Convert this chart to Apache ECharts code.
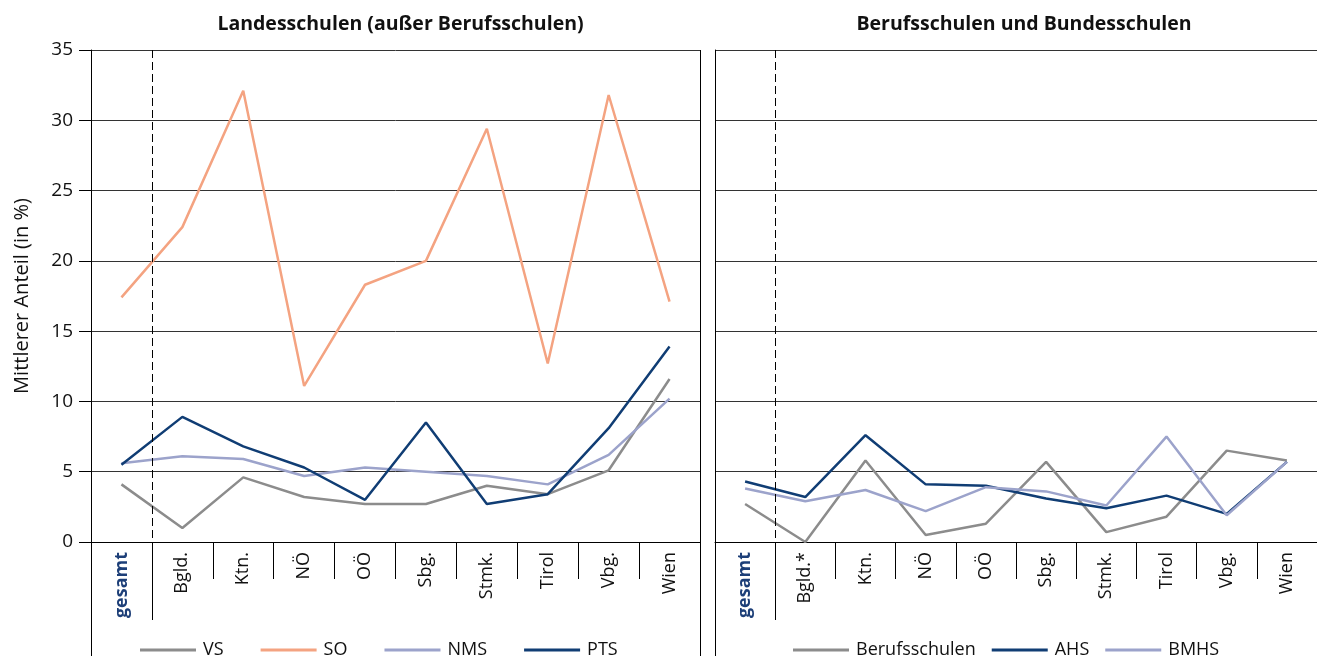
<!DOCTYPE html>
<html>
<head>
<meta charset="utf-8">
<script src="https://cdn.jsdelivr.net/npm/echarts@6/dist/echarts.min.js"></script>
<style>
  html, body { margin: 0; padding: 0; background: #fff; }
  #chart { width: 1317px; height: 656px; }
</style>
</head>
<body>
<div id="chart"></div>
<script>
// Kategorien
const catsLeft = ["gesamt", "Bgld.", "Ktn.", "NÖ", "OÖ", "Sbg.", "Stmk.", "Tirol", "Vbg.", "Wien"];
const catsRight = ["gesamt", "Bgld.*", "Ktn.", "NÖ", "OÖ", "Sbg.", "Stmk.", "Tirol", "Vbg.", "Wien"];

// Landesschulen
const vs = [4.1, 1.0, 4.6, 3.2, 2.7, 2.7, 4.0, 3.4, 5.1, 11.6];
const so = [17.4, 22.4, 32.1, 11.1, 18.3, 20.0, 29.4, 12.7, 31.8, 17.1];
const nms = [5.6, 6.1, 5.9, 4.7, 5.3, 5.0, 4.7, 4.1, 6.2, 10.2];
const pts = [5.5, 8.9, 6.8, 5.3, 3.0, 8.5, 2.7, 3.4, 8.1, 13.9];

// Berufsschulen und Bundesschulen
const berufsschulen = [2.7, 0.0, 5.8, 0.5, 1.3, 5.7, 0.7, 1.8, 6.5, 5.8];
const ahs = [4.3, 3.2, 7.6, 4.1, 4.0, 3.1, 2.4, 3.3, 2.0, 5.7];
const bmhs = [3.8, 2.9, 3.7, 2.2, 3.9, 3.6, 2.6, 7.5, 1.9, 5.7];

const yMin = 0, yMax = 35, yStep = 5;

const FONT = "Open Sans";
const GREY = "#8c8c8c";
const SALMON = "#f4a381";
const LAV = "#9ca3cb";
const NAVY = "#103d74";
const LINE = "#333";

const G0 = { left: 91, top: 50, width: 609, height: 492 };
const G1 = { left: 715, top: 50, width: 610, height: 492 };

function xAxisCfg(gridIndex, data) {
  return {
    type: "category",
    gridIndex: gridIndex,
    data: data,
    boundaryGap: true,
    axisLine: { lineStyle: { color: "#000", width: 1 } },
    axisTick: { show: true, interval: 0, length: 37, lineStyle: { color: "#000" } },
    axisLabel: {
      interval: 0,
      rotate: 90,
      margin: 10,
      formatter: function (v) {
        return v === "gesamt" ? "{g|" + v + "}" : "{n|" + v + "}";
      },
      rich: {
        n: { fontFamily: FONT, fontSize: 18, color: "#111" },
        g: { fontFamily: FONT, fontSize: 18, fontWeight: "bold", color: "#1d3f78" }
      }
    },
    splitLine: { show: false }
  };
}

function yAxisCfg(gridIndex, withLabels) {
  return {
    type: "value",
    gridIndex: gridIndex,
    min: yMin,
    max: yMax,
    interval: yStep,
    name: withLabels ? "Mittlerer Anteil (in %)" : "",
    nameLocation: "middle",
    nameGap: 59,
    nameTextStyle: { fontFamily: FONT, fontSize: 20, color: "#111" },
    axisLine: { show: true, lineStyle: { color: "#000" } },
    axisTick: { show: withLabels, length: 12, lineStyle: { color: "#000" } },
    axisLabel: {
      show: withLabels,
      margin: 18,
      fontFamily: FONT,
      fontSize: 19,
      color: "#111"
    },
    splitLine: { show: true, lineStyle: { color: LINE, width: 1 } }
  };
}

function line(name, data, color, xi) {
  return {
    name: name,
    type: "line",
    xAxisIndex: xi,
    yAxisIndex: xi,
    data: data,
    symbol: "none",
    showSymbol: false,
    lineStyle: { color: color, width: 2.5 },
    itemStyle: { color: color },
    emphasis: { disabled: true },
    z: 3
  };
}

const chart = echarts.init(document.getElementById("chart"));

const legendText = { fontFamily: FONT, fontSize: 18, color: "#111", padding: [0, 0, 0, 2] };
const titleText = { fontFamily: FONT, fontSize: 19.5, fontWeight: "bold", color: "#111" };

chart.setOption({
  animation: false,
  backgroundColor: "#fff",
  title: [
    {
      text: "Landesschulen (außer Berufsschulen)",
      left: G0.left + G0.width / 2,
      textAlign: "center",
      top: 9,
      textStyle: titleText
    },
    {
      text: "Berufsschulen und Bundesschulen",
      left: 1019,
      textAlign: "center",
      top: 9,
      textStyle: titleText
    }
  ],
  grid: [G0, G1],
  legend: [
    {
      data: ["VS", "SO", "NMS", "PTS"],
      left: 135,
      top: 636,
      icon: "rect",
      itemWidth: 56,
      itemHeight: 3,
      itemGap: 37,
      textStyle: legendText
    },
    {
      data: ["Berufsschulen", "AHS", "BMHS"],
      left: 788,
      top: 636,
      icon: "rect",
      itemWidth: 56,
      itemHeight: 3,
      itemGap: 16,
      textStyle: legendText
    }
  ],
  xAxis: [xAxisCfg(0, catsLeft), xAxisCfg(1, catsRight)],
  yAxis: [yAxisCfg(0, true), yAxisCfg(1, false)],
  series: [
    line("VS", vs, GREY, 0),
    line("SO", so, SALMON, 0),
    line("NMS", nms, LAV, 0),
    line("PTS", pts, NAVY, 0),
    line("Berufsschulen", berufsschulen, GREY, 1),
    line("AHS", ahs, NAVY, 1),
    line("BMHS", bmhs, LAV, 1)
  ]
});

// Rahmen und Trennlinie "gesamt" (aus den Achsen berechnet)
function gesamtSplit(xi, cats) {
  const a = chart.convertToPixel({ xAxisIndex: xi }, cats[0]);
  const b = chart.convertToPixel({ xAxisIndex: xi }, cats[1]);
  return Math.round((a + b) / 2) + 0.5;
}
const yTop = chart.convertToPixel({ yAxisIndex: 0 }, yMax);
const yZero = chart.convertToPixel({ yAxisIndex: 0 }, yMin);
const s0 = gesamtSplit(0, catsLeft);
const s1 = gesamtSplit(1, catsRight);

function vline(x, y1, y2, dash) {
  return {
    type: "line",
    shape: { x1: x, y1: y1, x2: x, y2: y2 },
    style: { stroke: "#000", lineWidth: 1, lineDash: dash || null },
    silent: true,
    z: 10
  };
}

chart.setOption({
  graphic: [
    vline(G0.left + 0.5, yTop, 656),
    vline(G0.left + G0.width + 0.5, yTop, 656),
    vline(G1.left + 0.5, yTop, 656),
    vline(s0, yTop, yZero, [8, 4]),
    vline(s0, yZero, 620),
    vline(s1, yTop, yZero, [8, 4]),
    vline(s1, yZero, 620)
  ]
});
</script>
</body>
</html>
